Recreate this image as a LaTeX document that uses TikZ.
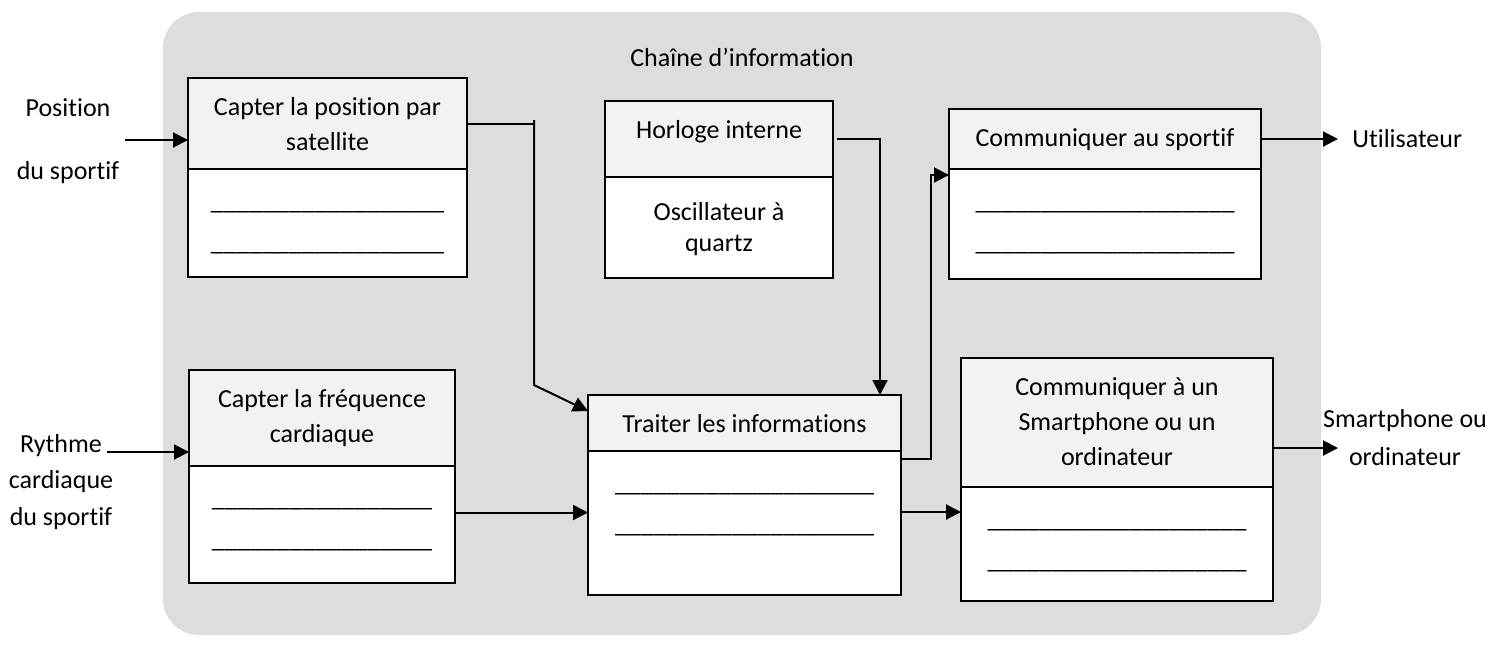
\documentclass[tikz,border=0pt]{standalone}
\usepackage{fontspec}
\setmainfont{Carlito}[Ligatures={NoCommon}]
\usepackage{tikz}
\usetikzlibrary{arrows.meta}
\usepackage{xcolor}
\definecolor{BgGray}{RGB}{221,221,221}
\definecolor{HeadGray}{RGB}{242,242,242}
\tikzstyle{HeadBox}=[rectangle,draw=black,fill=HeadGray,line width=1pt,outer sep=0pt,anchor=north west]
\tikzstyle{BodyBox}=[rectangle,draw=black,fill=white,line width=1pt,outer sep=0pt,anchor=north west]
\tikzstyle{BoxText}=[align=center,inner sep=0pt,anchor=north,font=\fontsize{13}{17.5}\selectfont]
\tikzstyle{BlankText}=[inner sep=0pt,anchor=base,font=\fontsize{13}{15}\selectfont]
\tikzstyle{Label}=[align=center,inner sep=0pt,font=\fontsize{13}{18.25}\selectfont]
\tikzstyle{Link}=[line width=1pt]
\tikzstyle{Arrow}=[line width=1pt,-{Triangle[length=7.5pt,width=7.5pt]}]
\newcommand{\Blank}[1]{\foreach \k in {1,...,#1}{\_}}

\begin{document}
\begin{tikzpicture}[x=0.5pt,y=-0.5pt]
    \useasboundingbox (0,0) rectangle (1494,645);
    \fill[BgGray,rounded corners=18pt] (163,12) rectangle (1321,635);
    \node[Label](Title)at(742,57){Chaîne d’information};
    % blocks
    \node[HeadBox,minimum width=139.5pt,minimum height=45.5pt](Ah)at(188,78){};
    \node[BodyBox,minimum width=139.5pt,minimum height=54pt](Ab)at(Ah.south west){};
    \node[BoxText](At)at([yshift=-9.5pt]Ah.north){Capter la position par\\satellite};
    \node[HeadBox,minimum width=114pt,minimum height=38pt](Bh)at(605,101){};
    \node[BodyBox,minimum width=114pt,minimum height=50.5pt](Bb)at(Bh.south west){};
    \node[BoxText](Bt)at([yshift=-9.5pt]Bh.north){Horloge interne};
    \node[BoxText,font=\fontsize{13}{15.5}\selectfont](Bq)at([yshift=-12.5pt]Bb.north){Oscillateur à\\quartz};
    \node[HeadBox,minimum width=156pt,minimum height=30pt](Ch)at(949,109){};
    \node[BodyBox,minimum width=156pt,minimum height=55pt](Cb)at(Ch.south west){};
    \node[BoxText](Ct)at([yshift=-9.5pt]Ch.north){Communiquer au sportif};
    \node[HeadBox,minimum width=133pt,minimum height=48pt](Dh)at(189,370){};
    \node[BodyBox,minimum width=133pt,minimum height=58.5pt](Db)at(Dh.south west){};
    \node[BoxText](Dt)at([yshift=-9.5pt]Dh.north){Capter la fréquence\\cardiaque};
    \node[HeadBox,minimum width=156.5pt,minimum height=28pt](Eh)at(588,395){};
    \node[BodyBox,minimum width=156.5pt,minimum height=72pt](Eb)at(Eh.south west){};
    \node[BoxText](Et)at([yshift=-9.5pt]Eh.north){Traiter les informations};
    \node[HeadBox,minimum width=156pt,minimum height=64.5pt](Fh)at(961,358){};
    \node[BodyBox,minimum width=156pt,minimum height=57pt](Fb)at(Fh.south west){};
    \node[BoxText](Ft)at([yshift=-9.5pt]Fh.north){Communiquer à un\\Smartphone ou un\\ordinateur};
    \foreach \b/\n in {Ab/18,Cb/20,Db/17,Eb/20,Fb/20}{
        \node[BlankText](\b1)at([yshift=-20pt]\b.north){\Blank{\n}};
        \node[BlankText](\b2)at([yshift=-40.5pt]\b.north){\Blank{\n}};
    }
    % outside labels
    \node[Label,font=\fontsize{13}{31.5}\selectfont](Pos)at(68,141){Position\\du sportif};
    \node[Label](Ryt)at(61,482){Rythme\\cardiaque\\du sportif};
    \node[Label,anchor=west](Util)at(1352,139){Utilisateur};
    \node[Label,font=\fontsize{13}{19}\selectfont](Smart)at(1405,438){Smartphone ou\\ordinateur};
    \coordinate(sA)at(125,140);
    \coordinate(sD)at(107,452);
    \coordinate(kA)at(534,124);
    \coordinate(bA)at(534,385);
    \coordinate(kB)at(880,139);
    \coordinate(kE)at(931,175);
    \coordinate(tS)at(1338,448);
    % connectors
    \draw[Arrow](sA)--(sA-|Ah.west);
    \draw[Arrow](sD)--(sD-|Dh.west);
    \draw[Link](Ah.east)--(Ah.east-|kA);
    \draw[Arrow]([yshift=2pt]kA)--(bA)--([yshift=-8pt]Eh.north west);
    \draw[Arrow]([xshift=2pt]Bh.east)--(kB)--(kB|-Eh.north);
    \draw[Arrow]([yshift=-4pt]Eb.north east)-|(kE)--([yshift=-3pt]Cb.north west);
    \draw[Arrow](Ch.east)--([xshift=-7pt]Util.west);
    \draw[Arrow]([yshift=6pt]Db.east)--([yshift=6pt]Db.east-|Eb.west);
    \draw[Arrow]([yshift=5.5pt]Eb.east)--([yshift=5.5pt]Eb.east-|Fb.west);
    \draw[Arrow](Fh.east|-tS)--(tS);
\end{tikzpicture}
\end{document}
